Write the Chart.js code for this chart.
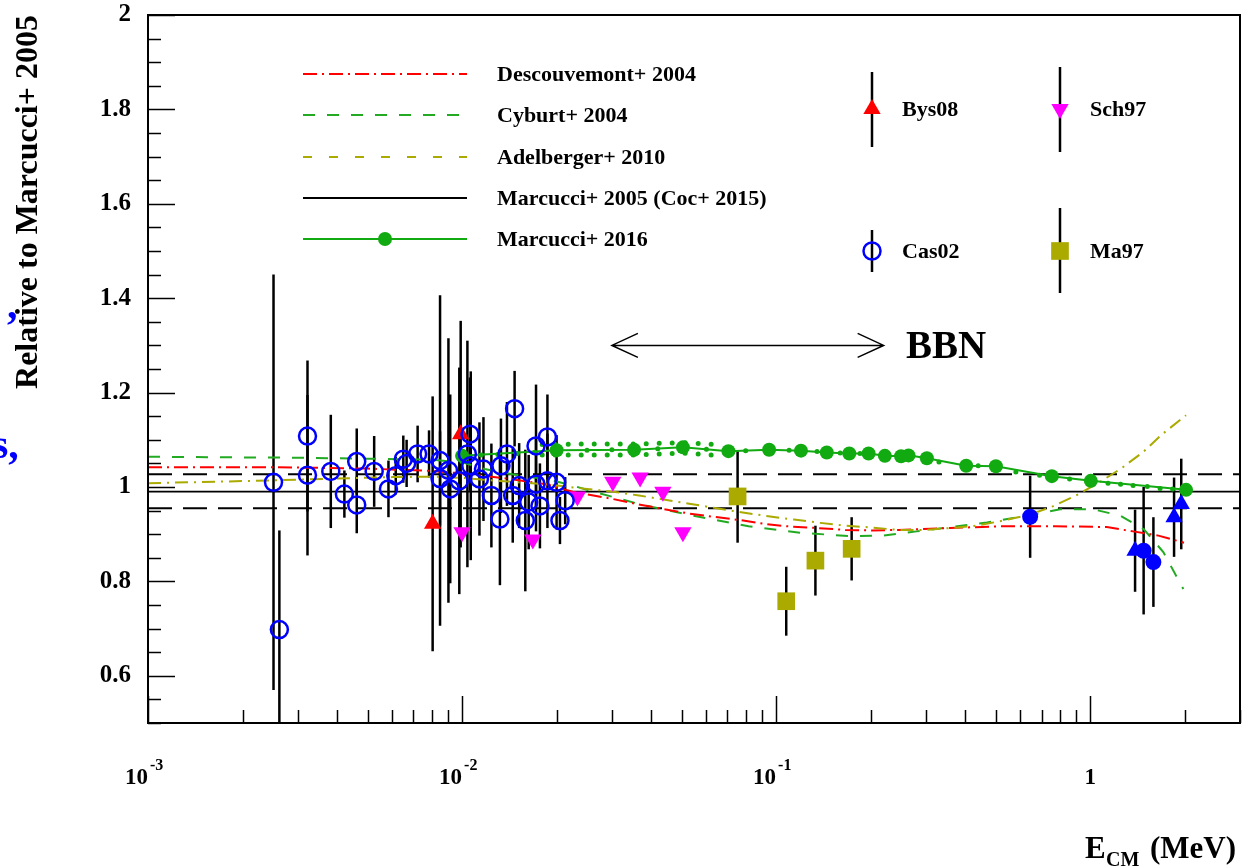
<!DOCTYPE html>
<html>
<head>
<meta charset="utf-8">
<script src="https://cdn.jsdelivr.net/npm/chart.js@4.4.0/dist/chart.umd.min.js"></script>
<style>
html, body { margin: 0; padding: 0; background: #fff; }
canvas { display: block; }
</style>
</head>
<body>
<canvas id="ratioChart" width="1256" height="867"></canvas>
<script>
// 軸
var yTicks = [0.6, 0.8, 1, 1.2, 1.4, 1.6, 1.8, 2]
var yTickLabels = ['0.6', '0.8', '1', '1.2', '1.4', '1.6', '1.8', '2']
var xDecades = [0.001, 0.01, 0.1, 1]
var xTickBase = ['10', '10', '10', '1']
var xTickExp = ['-3', '-2', '-1', '']

// 理論曲線
var descX = [0.001, 0.0025, 0.005, 0.008, 0.0104, 0.0142, 0.0185, 0.0225, 0.030, 0.036, 0.0438, 0.0526, 0.063, 0.0767, 0.0934, 0.112, 0.136, 0.166, 0.202, 0.245, 0.358, 0.527, 0.773, 1.13, 1.37, 1.65, 1.99]
var descY = [1.042, 1.042, 1.039, 1.034, 1.028, 1.017, 1.006, 0.990, 0.975, 0.964, 0.953, 0.944, 0.937, 0.930, 0.921, 0.916, 0.913, 0.909, 0.908, 0.909, 0.913, 0.917, 0.917, 0.915, 0.906, 0.897, 0.882]

var cybX = [0.001, 0.003, 0.005, 0.008, 0.0102, 0.0118, 0.0153, 0.0186, 0.0225, 0.0256, 0.0366, 0.0545, 0.0817, 0.119, 0.172, 0.22, 0.28, 0.358, 0.469, 0.628, 0.802, 1.02, 1.25, 1.48, 1.71, 1.98]
var cybY = [1.064, 1.062, 1.060, 1.058, 1.051, 1.038, 1.024, 1.017, 1.003, 0.992, 0.964, 0.939, 0.917, 0.903, 0.896, 0.897, 0.906, 0.915, 0.925, 0.939, 0.953, 0.953, 0.939, 0.911, 0.862, 0.784]

var adelX = [0.001, 0.0025, 0.004, 0.006, 0.0081, 0.0101, 0.0136, 0.0186, 0.0226, 0.0303, 0.0366, 0.0443, 0.0535, 0.0647, 0.0783, 0.0945, 0.114, 0.138, 0.167, 0.203, 0.245, 0.297, 0.358, 0.436, 0.53, 0.64, 0.76, 0.907, 1.077, 1.26, 1.48, 1.69, 2.02]
var adelY = [1.008, 1.014, 1.018, 1.021, 1.022, 1.019, 1.012, 1.006, 0.999, 0.990, 0.982, 0.973, 0.964, 0.955, 0.946, 0.938, 0.931, 0.924, 0.918, 0.914, 0.909, 0.909, 0.913, 0.918, 0.929, 0.941, 0.959, 0.983, 1.011, 1.040, 1.075, 1.111, 1.152]

var m05X = [0.001, 3]
var m05Y = [0.99, 0.99]
var bandHiY = [1.027, 1.027]
var bandLoY = [0.955, 0.955]

var m16X = [0.0100, 0.0200, 0.0353, 0.0505, 0.0705, 0.095, 0.120, 0.145, 0.171, 0.197, 0.222, 0.250, 0.264, 0.302, 0.403, 0.501, 0.755, 1.005, 2.02]
var m16Y = [1.066, 1.078, 1.079, 1.084, 1.076, 1.079, 1.077, 1.073, 1.071, 1.071, 1.066, 1.065, 1.067, 1.061, 1.045, 1.044, 1.023, 1.013, 0.994]
var m16SubX = [0.0115, 0.013, 0.015, 0.017, 0.025, 0.030, 0.042, 0.060, 0.080, 0.110, 0.135, 0.160, 0.185, 0.33, 0.44, 0.58, 0.69, 0.86, 1.14, 1.25, 1.37, 1.52, 1.67, 1.83]
var m16SubY = [1.068, 1.069, 1.071, 1.073, 1.078, 1.079, 1.081, 1.080, 1.077, 1.078, 1.075, 1.072, 1.071, 1.053, 1.045, 1.032, 1.025, 1.017, 1.008, 1.006, 1.003, 1.001, 0.997, 0.996]
var m16BandX = [0.018, 0.025, 0.035, 0.050, 0.065]
var m16HiY = [1.090, 1.091, 1.091, 1.094, 1.090]
var m16LoY = [1.068, 1.068, 1.068, 1.072, 1.067]

// 測定値
var bysX = [0.00806, 0.0099]
var bysY = [0.922, 1.112]
var bysErr = [0.27, 0.24]

var schX = [0.0100, 0.0168, 0.0233, 0.0302, 0.0369, 0.0436, 0.0505]
var schY = [0.904, 0.889, 0.980, 1.011, 1.020, 0.990, 0.904]
var schErr = [0, 0, 0, 0, 0, 0, 0]

var casX = [0.00251, 0.00262, 0.00322, 0.00322, 0.00382, 0.00422, 0.00462, 0.00462, 0.00525, 0.00583, 0.00615, 0.0065, 0.00666, 0.00722, 0.00785, 0.00851, 0.00851, 0.00905, 0.00917, 0.0098, 0.0106, 0.0104, 0.01066, 0.01136, 0.0117, 0.0124, 0.0132, 0.0133, 0.0139, 0.0147, 0.0145, 0.0152, 0.0159, 0.0163, 0.0172, 0.0172, 0.0177, 0.0187, 0.0187, 0.0200, 0.0205, 0.0213]
var casY = [1.010, 0.698, 1.108, 1.025, 1.033, 0.985, 1.054, 0.962, 1.033, 0.996, 1.024, 1.059, 1.050, 1.070, 1.070, 1.056, 1.018, 1.035, 0.996, 1.013, 1.112, 1.070, 1.045, 1.017, 1.038, 0.982, 0.932, 1.045, 1.070, 1.166, 0.982, 1.003, 0.929, 0.968, 1.087, 1.006, 0.960, 1.106, 1.013, 1.010, 0.929, 0.971]
var casErr = [0.44, 0.21, 0.16, 0.17, 0.12, 0.05, 0.07, 0.06, 0.075, 0.06, 0.04, 0.05, 0.05, 0.06, 0.05, 0.35, 0.10, 0.28, 0.20, 0.24, 0.12, 0.24, 0.20, 0.12, 0.11, 0.11, 0.14, 0.10, 0.11, 0.08, 0.10, 0.09, 0.15, 0.10, 0.13, 0.10, 0.09, 0.09, 0.10, 0.10, 0.05, 0.05]

var maX = [0.0754, 0.1077, 0.1334, 0.174]
var maY = [0.980, 0.758, 0.844, 0.869]
var maErr = [0.098, 0.073, 0.074, 0.067]

// 高エネルギー側の青い点 (凡例なし)
var blueCircX = [0.644, 1.48, 1.59]
var blueCircY = [0.937, 0.865, 0.841]
var blueCircErr = [0.087, 0.135, 0.095]
var blueTriX = [1.39, 1.85, 1.95]
var blueTriY = [0.865, 0.936, 0.964]
var blueTriErr = [0.087, 0.084, 0.096]

var serif = "'Liberation Serif', 'Times New Roman', serif"

var pts = function (xs, ys) {
    return xs.map(function (x, i) { return { x: x, y: ys[i] } })
}

// 目盛り・凡例・注記の描画
var extras = {
    id: 'extras',
    beforeDatasetsDraw: function (chart) {
        var ctx = chart.ctx, xs = chart.scales.x, ys = chart.scales.y, a = chart.chartArea
        ctx.save()
        ctx.beginPath()
        ctx.rect(a.left, a.top, a.right - a.left, a.bottom - a.top)
        ctx.clip()
        ctx.strokeStyle = '#000'
        ctx.lineWidth = 2.5
        chart.data.datasets.forEach(function (ds) {
            if (!ds.errs) return
            ds.data.forEach(function (p, i) {
                if (!ds.errs[i]) return
                var px = xs.getPixelForValue(p.x)
                ctx.beginPath()
                ctx.moveTo(px, ys.getPixelForValue(p.y - ds.errs[i]))
                ctx.lineTo(px, ys.getPixelForValue(p.y + ds.errs[i]))
                ctx.stroke()
            })
        })
        ctx.restore()
    },
    afterDraw: function (chart) {
        var ctx = chart.ctx, xs = chart.scales.x, ys = chart.scales.y, a = chart.chartArea
        var dsets = chart.data.datasets
        ctx.save()
        ctx.strokeStyle = '#000'
        ctx.fillStyle = '#000'

        // 枠
        ctx.lineWidth = 2
        ctx.strokeRect(a.left, a.top, a.right - a.left, a.bottom - a.top)

        // y目盛り
        ctx.lineWidth = 1.5
        for (var i = 10; i <= 40; i++) {
            var v = i * 0.05, py = Math.round(ys.getPixelForValue(v)) + 0.5
            var len = (i % 4 === 0) ? 27 : 13
            ctx.beginPath()
            ctx.moveTo(a.left, py)
            ctx.lineTo(a.left + len, py)
            ctx.stroke()
        }
        ctx.font = 'bold 25px ' + serif
        ctx.textAlign = 'right'
        ctx.textBaseline = 'middle'
        yTicks.forEach(function (v, k) {
            ctx.fillText(yTickLabels[k], 131, ys.getPixelForValue(v))
        })

        // x目盛り
        xDecades.forEach(function (d) {
            for (var k = 1; k <= 9; k++) {
                var v = k * d
                if (v > xs.max) break
                var px = Math.round(xs.getPixelForValue(v)) + 0.5
                ctx.beginPath()
                ctx.moveTo(px, a.bottom)
                ctx.lineTo(px, a.bottom - (k === 1 ? 27 : 13))
                ctx.stroke()
            }
        })
        xDecades.forEach(function (d, k) {
            var px = xs.getPixelForValue(d)
            ctx.textBaseline = 'alphabetic'
            if (xTickExp[k]) {
                ctx.font = 'bold 23px ' + serif
                ctx.textAlign = 'right'
                ctx.fillText(xTickBase[k], px, 784)
                ctx.font = 'bold 16px ' + serif
                ctx.textAlign = 'left'
                ctx.fillText(xTickExp[k], px + 2, 770)
            } else {
                ctx.font = 'bold 23px ' + serif
                ctx.textAlign = 'center'
                ctx.fillText(xTickBase[k], px, 784)
            }
        })

        // 軸タイトル
        ctx.save()
        ctx.translate(37, 15)
        ctx.rotate(-Math.PI / 2)
        ctx.font = 'bold 32px ' + serif
        ctx.textAlign = 'right'
        ctx.textBaseline = 'alphabetic'
        ctx.fillText('Relative to Marcucci+ 2005', 0, 0)
        ctx.restore()

        ctx.textAlign = 'left'
        ctx.textBaseline = 'alphabetic'
        ctx.font = 'bold 31px ' + serif
        ctx.fillText('E', 1085, 858)
        ctx.font = 'bold 20px ' + serif
        ctx.fillText('CM', 1106, 866)
        ctx.font = 'bold 31px ' + serif
        ctx.fillText('(MeV)', 1150, 858)

        // BBN 矢印
        var ax0 = xs.getPixelForValue(0.030), ax1 = xs.getPixelForValue(0.22), ay = ys.getPixelForValue(1.30)
        ctx.lineWidth = 1.5
        ctx.beginPath()
        ctx.moveTo(ax0, ay); ctx.lineTo(ax1, ay)
        ctx.moveTo(ax0 + 26, ay - 12); ctx.lineTo(ax0, ay); ctx.lineTo(ax0 + 26, ay + 12)
        ctx.moveTo(ax1 - 26, ay - 12); ctx.lineTo(ax1, ay); ctx.lineTo(ax1 - 26, ay + 12)
        ctx.stroke()
        ctx.font = 'bold 39px ' + serif
        ctx.textBaseline = 'middle'
        ctx.fillText('BBN', 906, 348)

        // 凡例 (左: 曲線)
        var lineItems = [
            { ds: dsets[0], y: 74 },
            { ds: dsets[1], y: 115 },
            { ds: dsets[2], y: 157, dash: [9, 17] },
            { ds: dsets[3], y: 198 },
            { ds: dsets[4], y: 239, marker: true }
        ]
        ctx.font = 'bold 22px ' + serif
        ctx.textBaseline = 'middle'
        lineItems.forEach(function (it) {
            ctx.save()
            ctx.strokeStyle = it.ds.borderColor
            ctx.lineWidth = 2
            ctx.setLineDash(it.dash || it.ds.borderDash || [])
            ctx.beginPath()
            ctx.moveTo(303, it.y)
            ctx.lineTo(467, it.y)
            ctx.stroke()
            ctx.restore()
            if (it.marker) {
                ctx.save()
                ctx.fillStyle = it.ds.pointBackgroundColor
                ctx.beginPath()
                ctx.arc(385, it.y, 7, 0, Math.PI * 2)
                ctx.fill()
                ctx.restore()
            }
            ctx.fillStyle = '#000'
            ctx.fillText(it.ds.label, 497, it.y + 1)
        })

        // 凡例 (右: 測定値)
        var markItems = [
            { ds: dsets[9], x: 872, y: 109, top: 72, bot: 147 },
            { ds: dsets[10], x: 1060, y: 109, top: 67, bot: 152 },
            { ds: dsets[11], x: 872, y: 251, top: 230, bot: 272 },
            { ds: dsets[12], x: 1060, y: 251, top: 208, bot: 293 }
        ]
        markItems.forEach(function (it) {
            ctx.save()
            ctx.strokeStyle = '#000'
            ctx.lineWidth = 2.5
            ctx.beginPath()
            ctx.moveTo(it.x, it.top)
            ctx.lineTo(it.x, it.bot)
            ctx.stroke()
            ctx.fillStyle = it.ds.pointBackgroundColor
            ctx.strokeStyle = it.ds.pointBorderColor
            ctx.lineWidth = it.ds.pointBorderWidth
            Chart.helpers.drawPoint(ctx, {
                pointStyle: it.ds.pointStyle,
                radius: it.ds.pointRadius,
                rotation: it.ds.pointRotation || 0,
                borderWidth: it.ds.pointBorderWidth
            }, it.x, it.y)
            ctx.restore()
            ctx.fillStyle = '#000'
            ctx.fillText(it.ds.label, it.x + 30, it.y + 1)
        })

        // 左端の切れた文字
        ctx.fillStyle = '#0000ff'
        ctx.font = 'bold 42px ' + serif
        ctx.textAlign = 'left'
        ctx.textBaseline = 'alphabetic'
        ctx.fillText(',', 7, 318)
        ctx.fillText('s,', -8, 458)
        ctx.restore()
    }
}

var ctx = document.getElementById('ratioChart')
new Chart(ctx, {
    type: 'scatter',
    data: {
        datasets: [
            { label: 'Descouvemont+ 2004', data: pts(descX, descY), showLine: true, borderColor: '#ff0000', borderWidth: 2, borderDash: [14, 5, 2, 5], pointRadius: 0, order: 20 },
            { label: 'Cyburt+ 2004', data: pts(cybX, cybY), showLine: true, borderColor: '#22aa22', borderWidth: 2, borderDash: [12, 12], pointRadius: 0, order: 21 },
            { label: 'Adelberger+ 2010', data: pts(adelX, adelY), showLine: true, borderColor: '#aaaa00', borderWidth: 2, borderDash: [13, 6, 2, 6], pointRadius: 0, order: 19 },
            { label: 'Marcucci+ 2005 (Coc+ 2015)', data: pts(m05X, m05Y), showLine: true, borderColor: '#000000', borderWidth: 1.8, pointRadius: 0, order: 22 },
            { label: 'Marcucci+ 2016', data: pts(m16X, m16Y), showLine: true, borderColor: '#11aa11', borderWidth: 2, pointRadius: 7, pointBackgroundColor: '#11aa11', pointBorderWidth: 0, order: 10 },
            { label: '', data: pts(m16SubX, m16SubY), showLine: false, pointRadius: 2.5, pointBackgroundColor: '#11aa11', pointBorderWidth: 0, order: 11 },
            { label: '', data: pts(m16BandX, m16HiY), showLine: true, borderColor: '#11aa11', borderWidth: 5, borderDash: [0, 13], borderCapStyle: 'round', pointRadius: 0, order: 12 },
            { label: '', data: pts(m16BandX, m16LoY), showLine: true, borderColor: '#11aa11', borderWidth: 5, borderDash: [0, 13], borderCapStyle: 'round', pointRadius: 0, order: 12 },
            { label: '', data: pts(m05X, bandHiY).concat([{ x: NaN, y: NaN }], pts(m05X, bandLoY)), showLine: true, spanGaps: false, borderColor: '#000000', borderWidth: 1.8, borderDash: [24, 11], pointRadius: 0, order: 23 },
            { label: 'Bys08', data: pts(bysX, bysY), errs: bysErr, pointStyle: 'triangle', pointRadius: 10, pointBackgroundColor: '#ff0000', pointBorderColor: '#ff0000', pointBorderWidth: 0, order: 3 },
            { label: 'Sch97', data: pts(schX, schY), errs: schErr, pointStyle: 'triangle', pointRotation: 180, pointRadius: 10, pointBackgroundColor: '#ff00ff', pointBorderColor: '#ff00ff', pointBorderWidth: 0, order: 3 },
            { label: 'Cas02', data: pts(casX, casY), errs: casErr, pointStyle: 'circle', pointRadius: 8.5, pointBackgroundColor: 'rgba(255,255,255,0)', pointBorderColor: '#0000ff', pointBorderWidth: 2.5, order: 2 },
            { label: 'Ma97', data: pts(maX, maY), errs: maErr, pointStyle: 'rect', pointRadius: 12.5, pointBackgroundColor: '#aaaa00', pointBorderColor: '#aaaa00', pointBorderWidth: 0, order: 3 },
            { label: '', data: pts(blueCircX, blueCircY), errs: blueCircErr, pointStyle: 'circle', pointRadius: 8, pointBackgroundColor: '#0000ff', pointBorderWidth: 0, order: 3 },
            { label: '', data: pts(blueTriX, blueTriY), errs: blueTriErr, pointStyle: 'triangle', pointRadius: 10, pointBackgroundColor: '#0000ff', pointBorderWidth: 0, order: 3 }
        ]
    },
    options: {
        responsive: false,
        animation: false,
        events: [],
        devicePixelRatio: 1,
        layout: { padding: { left: 148, top: 15, right: 16, bottom: 144 } },
        plugins: {
            legend: { display: false },
            tooltip: { enabled: false }
        },
        scales: {
            x: { type: 'logarithmic', min: 0.001, max: 3, display: false },
            y: { type: 'linear', min: 0.5, max: 2, display: false }
        }
    },
    plugins: [extras]
})
</script>
</body>
</html>
